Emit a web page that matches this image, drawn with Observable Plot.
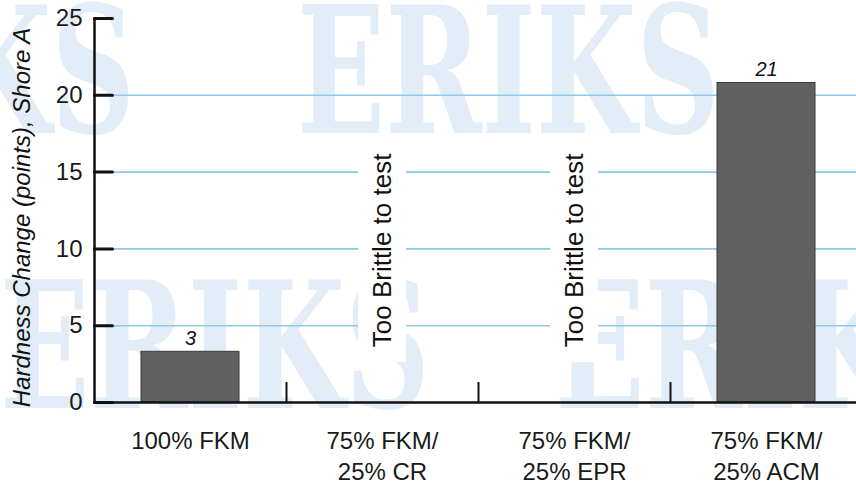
<!DOCTYPE html>
<html>
<head>
<meta charset="utf-8">
<script src="https://cdn.jsdelivr.net/npm/d3@7"></script>
<script src="https://cdn.jsdelivr.net/npm/@observablehq/plot@0.6"></script>
<style>
  html, body { margin: 0; padding: 0; overflow: hidden; background: #fff; }
  #wrap { position: relative; width: 856px; height: 481px; }
  #wm, #chart { position: absolute; left: 0; top: 0; }
</style>
</head>
<body>
<div id="wrap"><div id="wm"></div><div id="chart"></div></div>
<script>
// ---- data ----
const categories = ["100% FKM", "75% FKM/\n25% CR", "75% FKM/\n25% EPR", "75% FKM/\n25% ACM"];
const values = [3.3, null, null, 20.8];
const valueLabels = ["3", "", "", "21"];
const notes = ["", "Too Brittle to test", "Too Brittle to test", ""];
const noteCenter = 9.9;
const noteSpan = [2.6, 17.0];
const yTicks = [0, 5, 10, 15, 20, 25];
const gridTicks = [5, 10, 15, 20];
const yTitle = "Hardness Change (points), Shore A";
const separatorHeight = 1.3;

const bars = categories.map((c, i) => ({cat: c, value: values[i], label: valueLabels[i]})).filter(d => d.value != null);
const noteData = categories.map((c, i) => ({cat: c, note: notes[i]})).filter(d => d.note);

// ---- watermark (decorative background) ----
const wm = d3.select("#wm").append("svg").attr("width", 856).attr("height", 481);
const wmRows = [
  {x: -288, base: 133, w: 423}, {x: 297, base: 133, w: 423},
  {x: 0, base: 408, w: 430}, {x: 555, base: 408, w: 430}
];
wm.selectAll("text").data(wmRows).join("text")
  .attr("x", d => d.x).attr("y", d => d.base)
  .attr("textLength", d => d.w).attr("lengthAdjust", "spacingAndGlyphs")
  .attr("font-family", "DejaVu Serif").attr("font-weight", "bold")
  .attr("font-size", 176).attr("fill", "#e2edf7")
  .text("ERIKS");

// ---- chart ----
const W = 856, H = 481, mL = 94, mR = 0, mT = 18, mB = 79;
const step = (862 - mL) / categories.length;
const tickShape = {draw(context, l) { context.moveTo(0, 0); context.lineTo(0, -l); }};

const plot = Plot.plot({
  width: W, height: H,
  marginLeft: mL, marginRight: mR, marginTop: mT, marginBottom: mB,
  style: {background: "transparent", fontFamily: "'Liberation Sans', Arial, sans-serif", color: "#1a1a1a"},
  x: {domain: categories, range: [mL, 862], paddingInner: 0.49, paddingOuter: 0.245, label: null},
  y: {domain: [0, 25], label: null},
  marks: [
    Plot.ruleY(gridTicks, {stroke: "#8dc9ea", strokeWidth: 1.6, insetLeft: 20}),
    Plot.barY(noteData, {x: "cat", y1: noteSpan[0], y2: noteSpan[1], fill: "white", insetLeft: 25, insetRight: 25}),
    Plot.text(noteData, {x: "cat", y: noteCenter, text: "note", rotate: -90, fontSize: 26, fill: "#111",
      textAnchor: "middle", lineAnchor: "middle", letterSpacing: "0.5px"}),
    Plot.barY(bars, {x: "cat", y: "value", fill: "#606060", stroke: "#3a3a3a", strokeWidth: 1}),
    Plot.text(bars, {x: "cat", y: "value", text: "label", dy: -13, fontSize: 20, fontStyle: "italic", fill: "#111"}),
    Plot.ruleX(categories.slice(1), {x: d => d, y1: 0, y2: separatorHeight, dx: -step / 2, stroke: "#111", strokeWidth: 2}),
    Plot.ruleY([0], {stroke: "#111", strokeWidth: 2.5}),
    Plot.frame({anchor: "left", stroke: "#111", strokeWidth: 2.5}),
    Plot.axisY({ticks: yTicks, tickSize: 0, tickPadding: 12, fontSize: 24, label: null}),
    Plot.axisX({tickSize: 0, tickPadding: 24, fontSize: 24, lineHeight: 1.3, label: null}),
    Plot.text([yTitle], {frameAnchor: "left", dx: -72, dy: 7, rotate: -90, fontSize: 24, fontStyle: "italic",
      fill: "#111", textAnchor: "middle", lineAnchor: "middle"}),
    Plot.vector(yTicks, {y: d => d, frameAnchor: "left", length: 18, rotate: 90, anchor: "start",
      shape: tickShape, stroke: "#111", strokeWidth: 3})
  ]
});
plot.style.background = "transparent";
document.getElementById("chart").appendChild(plot);
</script>
</body>
</html>
